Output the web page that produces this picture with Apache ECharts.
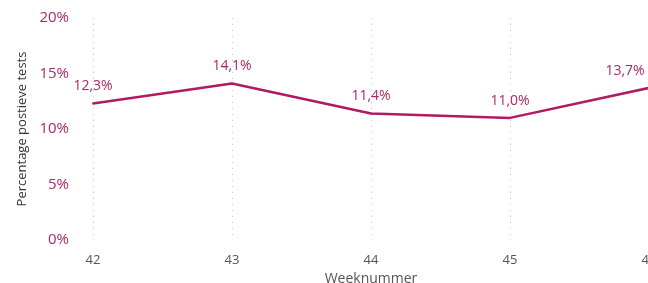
<!DOCTYPE html>
<html>
<head>
<meta charset="utf-8">
<script src="https://cdn.jsdelivr.net/npm/echarts@6/dist/echarts.min.js"></script>
<style>
  html, body { margin: 0; padding: 0; background: #fff; }
  #chart { width: 648px; height: 283px; }
</style>
</head>
<body>
<div id="chart"></div>
<script>
var weeks = ['42', '43', '44', '45', '46'];
var percentages = [12.3, 14.1, 11.4, 11.0, 13.7];
var yTicks = [0, 5, 10, 15, 20];

var lineColor = '#b01a63';

// last label is pushed left so it stays mostly inside the picture
var seriesData = percentages.map(function (v, i) {
    if (i === percentages.length - 1) {
        return { value: v, label: { offset: [-24, 0] } };
    }
    return v;
});

var myChart = echarts.init(document.getElementById('chart'));
var option = {
    animation: false,
    grid: {
        left: 93,
        right: -1,
        top: 18,
        bottom: 43,
        containLabel: false,
        outerBoundsMode: 'none'
    },
    xAxis: {
        type: 'category',
        data: weeks,
        boundaryGap: false,
        name: 'Weeknummer',
        nameLocation: 'middle',
        nameGap: 27,
        nameTextStyle: { color: '#555', fontSize: 14, fontFamily: 'Open Sans' },
        axisLine: { show: false },
        axisTick: { show: false },
        axisLabel: { color: '#555', fontSize: 13, margin: 14, fontFamily: 'Open Sans', hideOverlap: false },
        splitLine: {
            show: true,
            lineStyle: { color: '#c8c8c8', type: [1, 5], width: 1 }
        }
    },
    yAxis: {
        type: 'value',
        min: yTicks[0],
        max: yTicks[yTicks.length - 1],
        interval: 5,
        name: 'Percentage postieve tests',
        nameLocation: 'middle',
        nameGap: 63,
        nameTextStyle: { color: '#333', fontSize: 13, fontFamily: 'Open Sans' },
        axisLine: { show: false },
        axisTick: { show: false },
        splitLine: { show: false },
        axisLabel: {
            color: '#a8286b',
            fontSize: 15,
            margin: 24,
            fontFamily: 'Open Sans',
            formatter: function (v) { return v + '%'; }
        }
    },
    series: [
        {
            type: 'line',
            data: seriesData,
            symbol: 'circle',
            symbolSize: 2,
            showSymbol: true,
            itemStyle: { color: lineColor },
            lineStyle: { color: lineColor, width: 2.5 },
            label: {
                show: true,
                position: 'top',
                distance: 9,
                color: '#a8286b',
                fontSize: 14,
                fontFamily: 'Open Sans',
                formatter: function (p) { return p.value.toFixed(1).replace('.', ',') + '%'; }
            }
        }
    ]
};
myChart.setOption(option);
</script>
</body>
</html>
